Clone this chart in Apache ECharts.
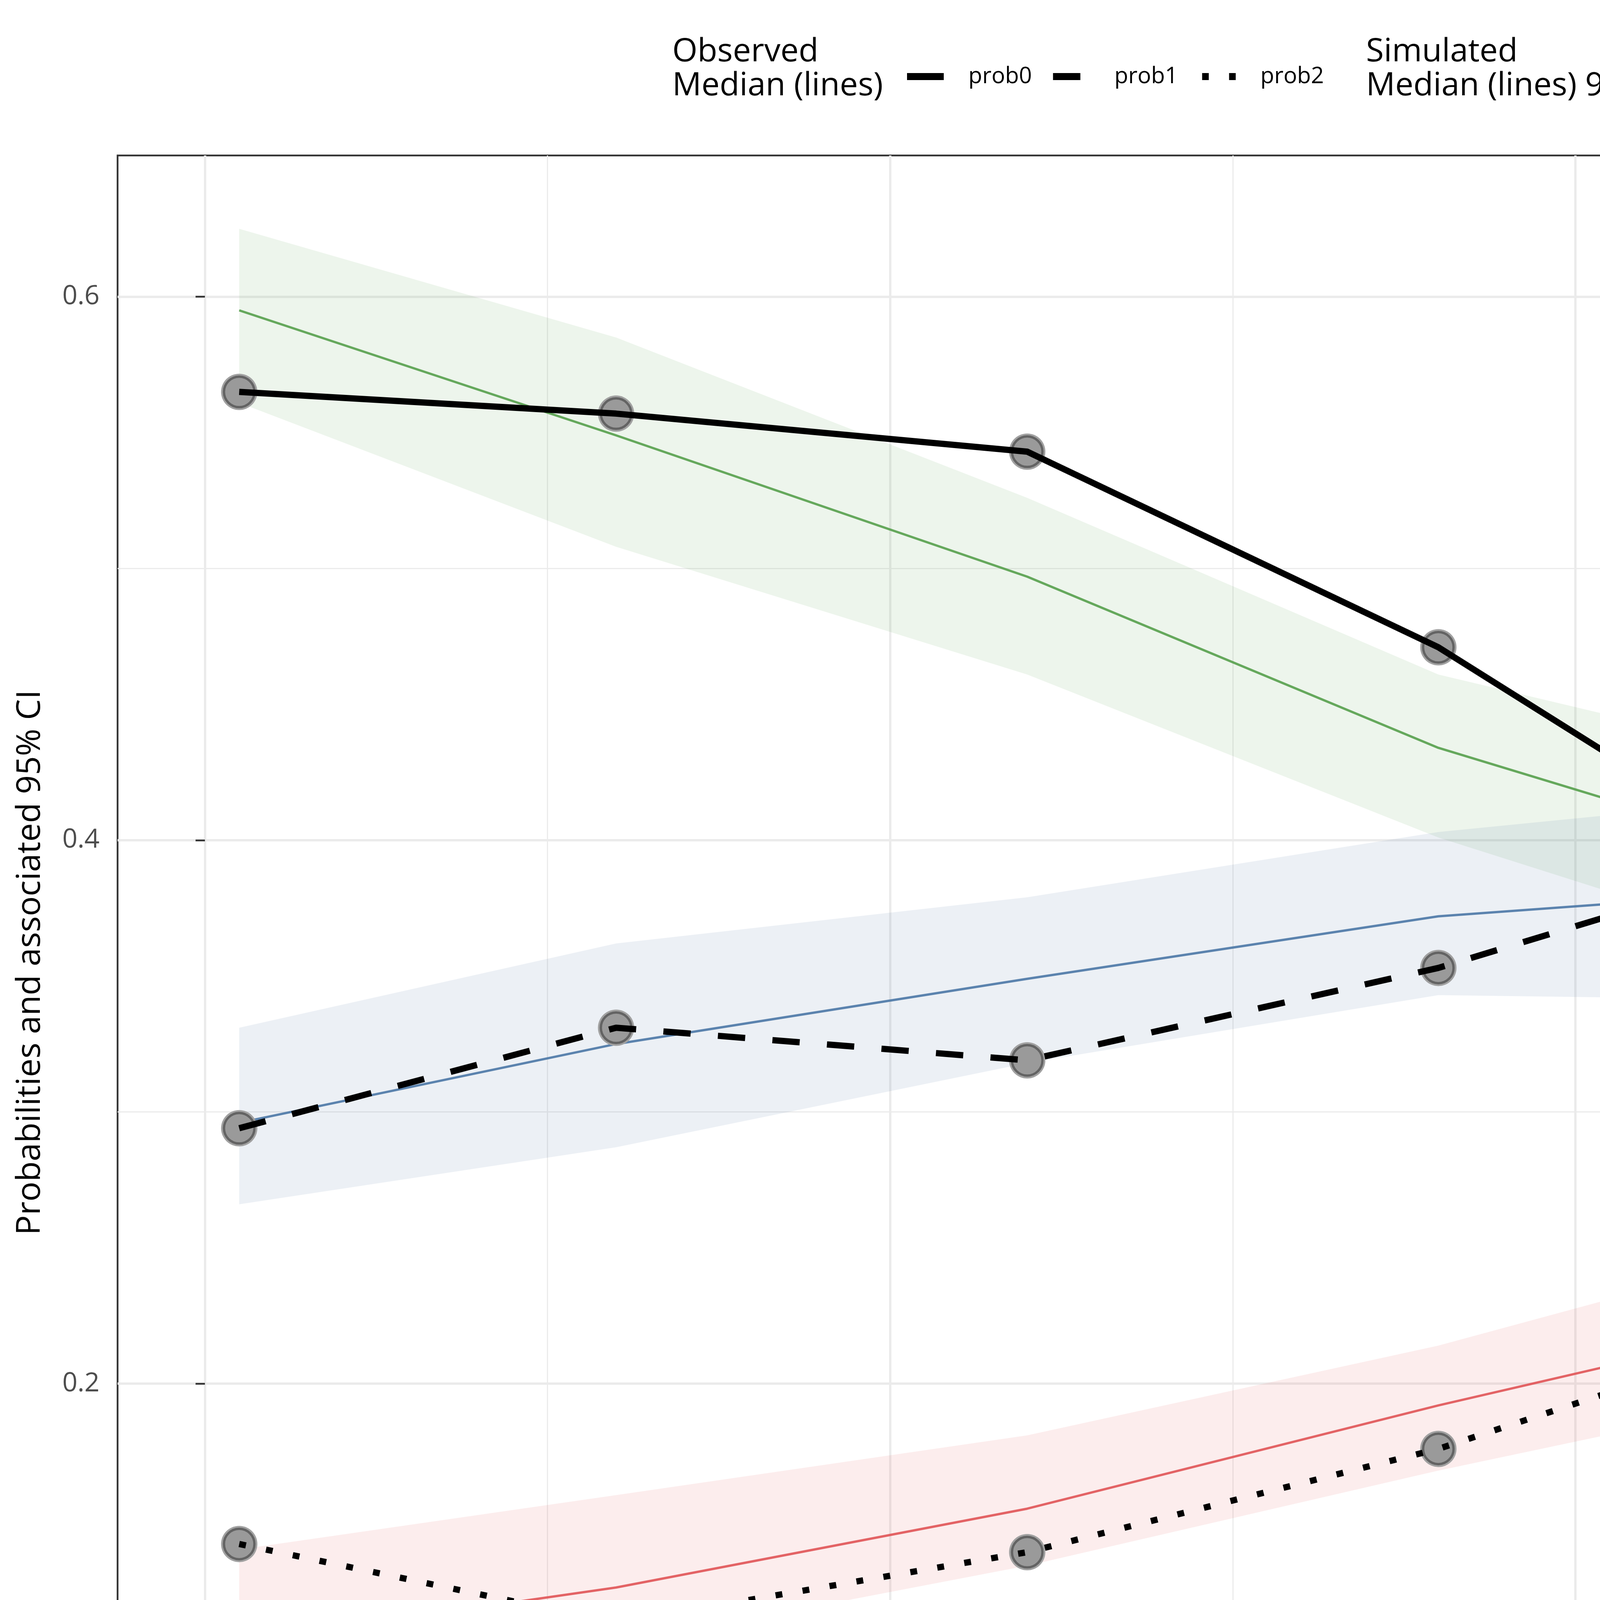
<!DOCTYPE html>
<html lang="en">

<head>
    <meta charset="UTF-8">
    <script src="https://cdn.jsdelivr.net/npm/echarts@6/dist/echarts.min.js"></script>
    <title>VPC</title>
    <style>
        body { margin: 0; }
    </style>
</head>

<body>
    <div id="main" style="width: 7200px;height: 4800px;"></div>

    <script>
        // data
        var time = [0.25, 3, 6, 9, 12, 15, 18];

        var obsProb0 = [0.565, 0.557, 0.543, 0.471, 0.376, 0.310, 0.245];
        var obsProb1 = [0.294, 0.331, 0.319, 0.353, 0.399, 0.404, 0.402];
        var obsProb2 = [0.141, 0.112, 0.138, 0.176, 0.226, 0.287, 0.353];

        var simProb0 = [0.595, 0.549, 0.497, 0.434, 0.388, 0.321, 0.279];
        var loProb0 = [0.561, 0.508, 0.461, 0.401, 0.353, 0.272, 0.253];
        var hiProb0 = [0.625, 0.585, 0.526, 0.461, 0.425, 0.358, 0.318];

        var simProb1 = [0.296, 0.325, 0.349, 0.372, 0.383, 0.400, 0.393];
        var loProb1 = [0.266, 0.287, 0.318, 0.343, 0.341, 0.358, 0.355];
        var hiProb1 = [0.331, 0.362, 0.379, 0.403, 0.418, 0.459, 0.428];

        var simProb2 = [0.105, 0.125, 0.154, 0.192, 0.227, 0.282, 0.326];
        var loProb2 = [0.085, 0.104, 0.133, 0.168, 0.200, 0.240, 0.297];
        var hiProb2 = [0.139, 0.159, 0.181, 0.214, 0.255, 0.327, 0.358];

        var xTicks = [0, 5, 10, 15];
        var xMinor = [2.5, 7.5, 12.5, 17.5];
        var yTicks = [0.2, 0.4, 0.6];
        var yMinor = [0.1, 0.3, 0.5];

        var font = 'Open Sans';
        var lineColors = ['#59A14F', '#4E79A7', '#E15759'];
        var bandColors = ['rgba(89,161,79,0.11)', 'rgba(78,121,167,0.11)', 'rgba(225,87,89,0.11)'];
        var obsDash = ['solid', [70, 70], [17.5, 52.5]];
        var names = ['prob0', 'prob1', 'prob2'];

        var obs = [obsProb0, obsProb1, obsProb2];
        var sim = [simProb0, simProb1, simProb2];
        var lo = [loProb0, loProb1, loProb2];
        var hi = [hiProb0, hiProb1, hiProb2];

        function pairs(ys) {
            return time.map(function (t, i) { return [t, ys[i]]; });
        }

        var chartDom = document.getElementById('main');
        var myChart = echarts.init(chartDom);
        var series = [];

        // 95% CI areas
        names.forEach(function (n, k) {
            series.push({
                name: 'ci_' + n,
                type: 'custom',
                z: 1,
                itemStyle: { color: bandColors[k] },
                encode: { x: 0, y: [1, 2] },
                data: time.map(function (t, i) { return [t, lo[k][i], hi[k][i]]; }),
                renderItem: function (params, api) {
                    if (params.dataIndex !== 0) return;
                    var pts = [];
                    for (var i = 0; i < time.length; i++) pts.push(api.coord([time[i], hi[k][i]]));
                    for (var j = time.length - 1; j >= 0; j--) pts.push(api.coord([time[j], lo[k][j]]));
                    return { type: 'polygon', shape: { points: pts }, style: { fill: bandColors[k] } };
                }
            });
        });

        // simulated medians
        names.forEach(function (n, k) {
            series.push({
                name: 'sim_' + n,
                type: 'line',
                z: 2,
                color: lineColors[k],
                symbol: 'none',
                lineStyle: { width: 6, color: lineColors[k], opacity: 0.92 },
                data: pairs(sim[k])
            });
        });

        // observed points (halo + point)
        names.forEach(function (n, k) {
            series.push({
                name: 'pt_' + n,
                type: 'scatter',
                z: 3,
                symbolSize: 93,
                itemStyle: { color: '#a1a1a1', opacity: 1 },
                data: pairs(obs[k])
            });
            series.push({
                name: 'pt_' + n,
                type: 'scatter',
                z: 3,
                symbolSize: 78,
                itemStyle: { color: '#9a9a9a', borderColor: '#636363', borderWidth: 6, opacity: 1 },
                data: pairs(obs[k])
            });
        });

        // observed medians
        names.forEach(function (n, k) {
            series.push({
                name: 'obs_' + n,
                type: 'line',
                z: 4,
                color: '#000000',
                symbol: 'none',
                lineStyle: { width: 16, color: '#000000', type: obsDash[k], cap: 'butt', join: 'round' },
                data: pairs(obs[k])
            });
        });

        var legendText = { fontFamily: font, fontSize: 58, color: '#000000' };
        var stripPrefix = function (name) { return name.split('_')[1]; };
        var obsIcons = [
            'path://M0,0H94V18H0Z',
            'path://M0,0H70V18H0Z M93.99,17.99H94V18H93.99Z',
            'path://M0,0H0.01V0.01H0Z M8,0H25V18H8Z M77,0H94V18H77Z'
        ];
        var simLineIcon = 'path://M0,0H0.01V0.01H0Z M5,48.5H101V57.5H5Z M105.99,105.99H106V106H105.99Z';

        option = {
            animation: false,
            backgroundColor: '#ffffff',
            grid: {
                left: 301, right: 49, top: 398, bottom: 270,
                show: true, borderColor: '#333333', borderWidth: 4.5, backgroundColor: 'transparent'
            },
            legend: [
                {
                    left: 2322, top: 167, padding: 0,
                    itemWidth: 94, itemHeight: 18, itemGap: 54,
                    selectedMode: false,
                    formatter: stripPrefix,
                    textStyle: Object.assign({ padding: [0, 0, 0, 58] }, legendText),
                    data: names.map(function (n, k) { return { name: 'obs_' + n, icon: obsIcons[k] }; })
                },
                {
                    left: 4670, top: 122, padding: 0,
                    itemWidth: 106, itemHeight: 106, itemGap: 51,
                    selectedMode: false,
                    formatter: stripPrefix,
                    textStyle: Object.assign({ padding: [0, 0, 0, 50] }, legendText),
                    data: names.map(function (n) { return { name: 'ci_' + n, icon: 'rect' }; })
                },
                {
                    left: 4670, top: 122, padding: 0, z: 5,
                    itemWidth: 106, itemHeight: 106, itemGap: 51,
                    selectedMode: false,
                    formatter: stripPrefix,
                    textStyle: Object.assign({}, legendText, { padding: [0, 0, 0, 50], color: 'rgba(0,0,0,0)' }),
                    data: names.map(function (n) { return { name: 'sim_' + n, icon: simLineIcon }; })
                }
            ],
            graphic: [
                {
                    type: 'text', left: 1721, top: 90,
                    style: { text: 'Observed\nMedian (lines)', fontFamily: font, fontSize: 83, lineHeight: 87, fill: '#000000' }
                },
                {
                    type: 'text', left: 3497, top: 90,
                    style: { text: 'Simulated\nMedian (lines) 95% CI (areas)', fontFamily: font, fontSize: 83, lineHeight: 87, fill: '#000000' }
                }
            ],
            xAxis: [
                {
                    type: 'value', min: -0.6375, max: 18.8875,
                    name: 'TIME', nameLocation: 'middle', nameGap: 130,
                    nameTextStyle: { fontFamily: font, fontSize: 85, color: '#000000' },
                    axisLine: { show: false },
                    axisTick: { show: true, length: 24, customValues: xTicks, lineStyle: { color: '#333333', width: 4.5 } },
                    axisLabel: { customValues: xTicks, margin: 30, fontFamily: font, fontSize: 68, color: '#4D4D4D' },
                    splitLine: { show: true, lineStyle: { color: '#EBEBEB', width: 6 } }
                },
                {
                    type: 'value', min: -0.6375, max: 18.8875,
                    axisLine: { show: false },
                    axisTick: { show: false, customValues: xMinor },
                    axisLabel: { show: false },
                    splitLine: { show: true, lineStyle: { color: '#EBEBEB', width: 3 } }
                }
            ],
            yAxis: [
                {
                    type: 'value', min: 0.058, max: 0.652,
                    name: 'Probabilities and associated 95% CI', nameLocation: 'middle', nameGap: 181,
                    nameTextStyle: { fontFamily: font, fontSize: 85, color: '#000000' },
                    axisLine: { show: false },
                    axisTick: { show: true, length: 24, customValues: yTicks, lineStyle: { color: '#333333', width: 4.5 } },
                    axisLabel: {
                        customValues: yTicks, margin: 46, fontFamily: font, fontSize: 68, color: '#4D4D4D',
                        formatter: function (v) { return v.toFixed(1); }
                    },
                    splitLine: { show: true, lineStyle: { color: '#EBEBEB', width: 6 } }
                },
                {
                    type: 'value', min: 0.058, max: 0.652,
                    axisLine: { show: false },
                    axisTick: { show: false, customValues: yMinor },
                    axisLabel: { show: false },
                    splitLine: { show: true, lineStyle: { color: '#EBEBEB', width: 3 } }
                }
            ],
            series: series
        };
        myChart.setOption(option);

    </script>
</body>

</html>
